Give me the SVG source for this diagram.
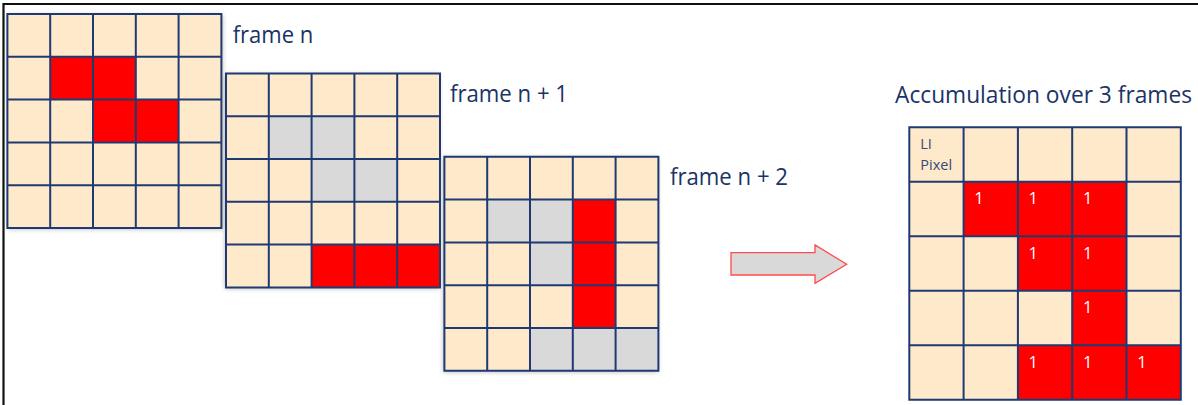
<svg xmlns="http://www.w3.org/2000/svg" width="1198" height="405" viewBox="0 0 1198 405">
<style>
.bg{fill:#fee9cb}
.r{fill:#ff0000}
.g{fill:#d9d9d9}
.ln{fill:none;stroke:#1f3a73;stroke-width:2}
.lbl{font-family:"Open Sans","Liberation Sans",sans-serif;font-size:23px;fill:#1a3466}
.one{font-family:"Open Sans","Liberation Sans",sans-serif;font-size:16.5px;fill:#ffffff}
.li{font-family:"Open Sans","Liberation Sans",sans-serif;font-size:14.5px;fill:#34497a}
</style>
<defs>
<filter id="sh" x="-10%" y="-10%" width="120%" height="120%">
<feGaussianBlur stdDeviation="2.5"/>
</filter>
<path id="grid5" d="M0,0H214V214H0Z M42.8,0V214 M85.6,0V214 M128.4,0V214 M171.2,0V214 M0,42.8H214 M0,85.6H214 M0,128.4H214 M0,171.2H214"/>
</defs>
<rect x="0" y="0" width="1198" height="405" fill="#ffffff"/>
<path d="M3.5,405V4H1198" fill="none" stroke="#111111" stroke-width="2.2"/>

<g id="frame-n" transform="translate(7.4,14)">
<rect x="0" y="0" width="214" height="214" fill="#777" opacity="0.55" filter="url(#sh)" transform="translate(1,1)"/>
<rect class="bg" x="0" y="0" width="214" height="214"/>
<rect class="r" x="42.8" y="42.8" width="85.6" height="42.8"/>
<rect class="r" x="85.6" y="85.6" width="85.6" height="42.8"/>
<use href="#grid5" class="ln"/>
</g>

<g id="frame-n1" transform="translate(226,73.4)">
<rect x="0" y="0" width="214" height="214" fill="#777" opacity="0.55" filter="url(#sh)" transform="translate(-1,1)"/>
<rect class="bg" x="0" y="0" width="214" height="214"/>
<rect class="g" x="42.8" y="42.8" width="85.6" height="42.8"/>
<rect class="g" x="85.6" y="85.6" width="85.6" height="42.8"/>
<rect class="r" x="85.6" y="171.2" width="128.4" height="42.8"/>
<use href="#grid5" class="ln"/>
</g>

<g id="frame-n2" transform="translate(444.4,156.8)">
<rect x="0" y="0" width="214" height="214" fill="#777" opacity="0.55" filter="url(#sh)" transform="translate(-1,1)"/>
<rect class="bg" x="0" y="0" width="214" height="214"/>
<rect class="g" x="42.8" y="42.8" width="85.6" height="42.8"/>
<rect class="g" x="85.6" y="85.6" width="42.8" height="42.8"/>
<rect class="r" x="128.4" y="42.8" width="42.8" height="128.4"/>
<rect class="g" x="85.6" y="171.2" width="128.4" height="42.8"/>
<use href="#grid5" class="ln"/>
</g>

<g id="labels">
<text class="lbl" x="232.7" y="43.3" textLength="80.7" lengthAdjust="spacingAndGlyphs">frame n</text>
<text class="lbl" x="450" y="102.3" textLength="118" lengthAdjust="spacingAndGlyphs">frame n + 1</text>
<text class="lbl" x="670" y="185.2" textLength="118" lengthAdjust="spacingAndGlyphs">frame n + 2</text>
<text class="lbl" x="895" y="103.3" textLength="297" lengthAdjust="spacingAndGlyphs">Accumulation over 3 frames</text>
</g>

<g id="connectors">
<path d="M731,252.7H815V245L846.7,264.3L815,283.3V275H731Z" fill="#d9d9d9" stroke="#ff4b4b" stroke-width="1.3"/>
</g>

<g id="accumulation" transform="translate(909.3,127.3)">
<rect class="bg" x="0" y="0" width="271.5" height="272.5"/>
<rect class="r" x="54.3" y="54.5" width="162.9" height="54.5"/>
<rect class="r" x="108.6" y="109" width="108.6" height="54.5"/>
<rect class="r" x="162.9" y="163.5" width="54.3" height="54.5"/>
<rect class="r" x="108.6" y="218" width="162.9" height="54.5"/>
<path class="ln" d="M0,0H271.5V272.5H0Z M54.3,0V272.5 M108.6,0V272.5 M162.9,0V272.5 M217.2,0V272.5 M0,54.5H271.5 M0,109H271.5 M0,163.5H271.5 M0,218H271.5"/>
<text class="li" x="11" y="22">LI</text>
<text class="li" x="11" y="42.7">Pixel</text>
<text class="one" x="65" y="77">1</text>
<text class="one" x="119.3" y="77">1</text>
<text class="one" x="173.6" y="77">1</text>
<text class="one" x="119.3" y="131.5">1</text>
<text class="one" x="173.6" y="131.5">1</text>
<text class="one" x="173.6" y="186">1</text>
<text class="one" x="119.3" y="240.5">1</text>
<text class="one" x="173.6" y="240.5">1</text>
<text class="one" x="227.9" y="240.5">1</text>
</g>
</svg>
